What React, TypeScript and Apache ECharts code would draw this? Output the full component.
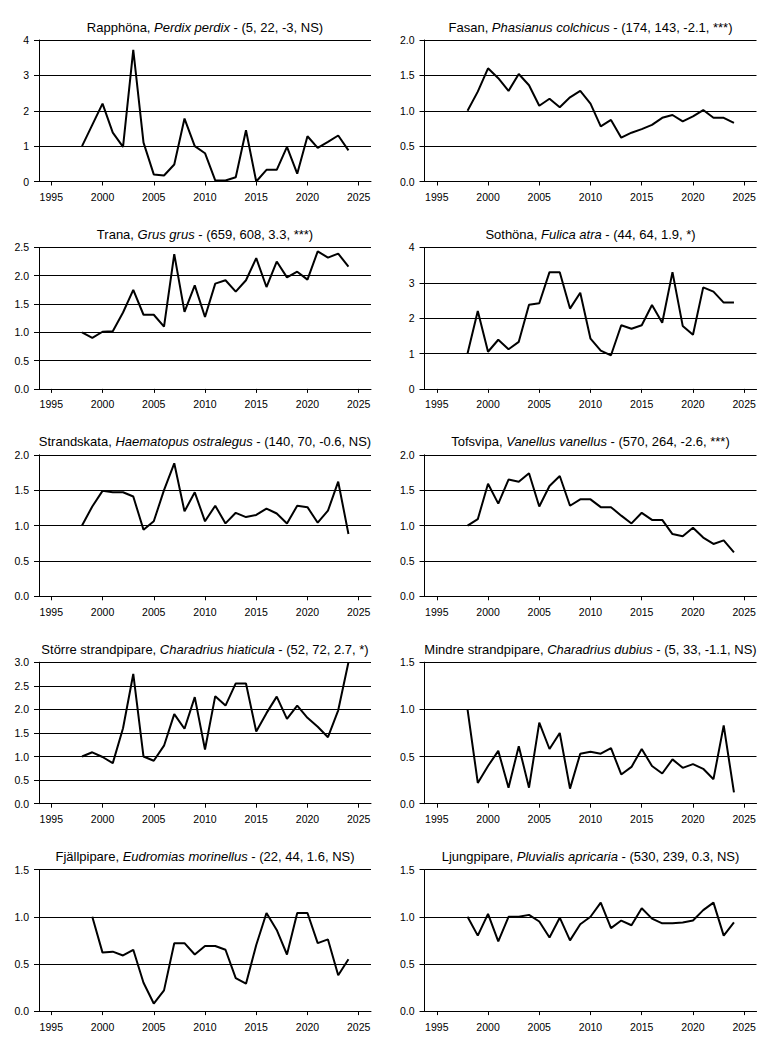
import React, { useEffect, useRef } from "react";
import * as echarts from "echarts";

// ---------- data ----------
const years = [
  1998, 1999, 2000, 2001, 2002, 2003, 2004, 2005, 2006, 2007, 2008, 2009, 2010,
  2011, 2012, 2013, 2014, 2015, 2016, 2017, 2018, 2019, 2020, 2021, 2022, 2023, 2024,
];
const xTickYears = [1995, 2000, 2005, 2010, 2015, 2020, 2025];

const commonNames = [
  "Rapphöna", "Fasan", "Trana", "Sothöna", "Strandskata",
  "Tofsvipa", "Större strandpipare", "Mindre strandpipare", "Fjällpipare", "Ljungpipare",
];
const latinNames = [
  "Perdix perdix", "Phasianus colchicus", "Grus grus", "Fulica atra", "Haematopus ostralegus",
  "Vanellus vanellus", "Charadrius hiaticula", "Charadrius dubius", "Eudromias morinellus", "Pluvialis apricaria",
];
const statTexts = [
  "(5, 22, -3, NS)", "(174, 143, -2.1, ***)", "(659, 608, 3.3, ***)", "(44, 64, 1.9, *)", "(140, 70, -0.6, NS)",
  "(570, 264, -2.6, ***)", "(52, 72, 2.7, *)", "(5, 33, -1.1, NS)", "(22, 44, 1.6, NS)", "(530, 239, 0.3, NS)",
];
const yMaxes = [4, 2, 2.5, 4, 2, 2, 3, 1.5, 1.5, 1.5];
const ySteps = [1, 0.5, 0.5, 1, 0.5, 0.5, 0.5, 0.5, 0.5, 0.5];

const rapphona = [1.0, 1.6, 2.2, 1.38, 0.98, 3.72, 1.1, 0.2, 0.17, 0.48, 1.78, 1.0, 0.8, 0.03, 0.03, 0.12, 1.45, 0.0, 0.33, 0.33, 0.98, 0.22, 1.28, 0.95, 1.12, 1.3, 0.88];
const fasan = [1.0, 1.27, 1.6, 1.46, 1.28, 1.52, 1.36, 1.07, 1.17, 1.05, 1.19, 1.28, 1.1, 0.78, 0.87, 0.62, 0.69, 0.74, 0.8, 0.9, 0.94, 0.85, 0.92, 1.01, 0.9, 0.9, 0.83];
const trana = [1.0, 0.9, 1.01, 1.02, 1.35, 1.75, 1.31, 1.31, 1.1, 2.38, 1.36, 1.83, 1.27, 1.86, 1.92, 1.72, 1.92, 2.31, 1.8, 2.25, 1.97, 2.07, 1.93, 2.43, 2.32, 2.39, 2.16];
const sothona = [1.0, 2.2, 1.05, 1.39, 1.12, 1.33, 2.38, 2.42, 3.3, 3.3, 2.27, 2.72, 1.42, 1.08, 0.95, 1.8, 1.7, 1.8, 2.37, 1.87, 3.3, 1.78, 1.53, 2.87, 2.75, 2.44, 2.44];
const strandskata = [1.0, 1.27, 1.49, 1.47, 1.47, 1.41, 0.94, 1.06, 1.5, 1.88, 1.2, 1.47, 1.06, 1.28, 1.03, 1.18, 1.12, 1.15, 1.24, 1.17, 1.03, 1.28, 1.26, 1.04, 1.21, 1.62, 0.88];
const tofsvipa = [1.0, 1.09, 1.59, 1.31, 1.65, 1.62, 1.74, 1.27, 1.56, 1.7, 1.28, 1.37, 1.37, 1.26, 1.26, 1.14, 1.03, 1.18, 1.08, 1.08, 0.88, 0.85, 0.97, 0.83, 0.74, 0.79, 0.62];
const storreStrandpipare = [1.0, 1.09, 0.99, 0.86, 1.6, 2.75, 1.0, 0.91, 1.23, 1.9, 1.59, 2.26, 1.15, 2.28, 2.08, 2.55, 2.55, 1.53, 1.92, 2.27, 1.8, 2.08, 1.82, 1.63, 1.41, 1.98, 3.0];
const mindreStrandpipare = [1.0, 0.22, 0.4, 0.56, 0.17, 0.61, 0.17, 0.86, 0.58, 0.75, 0.16, 0.53, 0.55, 0.53, 0.59, 0.31, 0.39, 0.58, 0.4, 0.32, 0.47, 0.38, 0.42, 0.37, 0.26, 0.83, 0.12];
const fjallpipare = [null, 1.0, 0.62, 0.63, 0.59, 0.65, 0.3, 0.08, 0.22, 0.72, 0.72, 0.6, 0.69, 0.69, 0.65, 0.35, 0.29, 0.7, 1.04, 0.86, 0.6, 1.04, 1.04, 0.72, 0.76, 0.38, 0.55];
const ljungpipare = [1.0, 0.8, 1.03, 0.74, 1.0, 1.0, 1.02, 0.95, 0.78, 0.99, 0.75, 0.92, 1.0, 1.15, 0.88, 0.96, 0.91, 1.09, 0.98, 0.93, 0.93, 0.94, 0.96, 1.07, 1.15, 0.8, 0.94];

const seriesValues: (number | null)[][] = [
  rapphona, fasan, trana, sothona, strandskata,
  tofsvipa, storreStrandpipare, mindreStrandpipare, fjallpipare, ljungpipare,
];

// ---------- layout ----------
const FONT = "'Liberation Sans', Arial, Helvetica, sans-serif";
const COL_LEFT = [39, 424.5];
const PLOT_W = 332;
const PLOT_H = 141.5;
const ROW_TOP0 = 40;
const ROW_STEP = 207.4;
const TICK_FONT = 10.5;
const TITLE_FONT = 13;

function buildOption() {
  const grids: any[] = [];
  const xAxes: any[] = [];
  const yAxes: any[] = [];
  const series: any[] = [];
  const graphics: any[] = [];

  seriesValues.forEach((vals, i) => {
    const col = i % 2;
    const row = Math.floor(i / 2);
    const left = COL_LEFT[col];
    const top = ROW_TOP0 + row * ROW_STEP;
    grids.push({ left, top, width: PLOT_W, height: PLOT_H, containLabel: false, outerBoundsMode: "none" });

    xAxes.push({
      type: "value",
      gridIndex: i,
      min: 1993.8,
      max: 2026.2,
      axisLine: { show: true, onZero: false, lineStyle: { color: "#000", width: 1 } },
      axisTick: { show: true, length: 4, lineStyle: { color: "#000", width: 1 }, customValues: xTickYears },
      axisLabel: {
        show: true,
        customValues: xTickYears,
        fontSize: TICK_FONT,
        fontFamily: FONT,
        color: "#000",
        margin: 10,
        formatter: (v: number) => String(v),
      },
      splitLine: { show: false },
    });

    const step = ySteps[i];
    yAxes.push({
      type: "value",
      gridIndex: i,
      min: 0,
      max: yMaxes[i],
      interval: step,
      axisLine: { show: true, onZero: false, lineStyle: { color: "#000", width: 1 } },
      axisTick: { show: true, length: 5, lineStyle: { color: "#000", width: 1 } },
      axisLabel: {
        show: true,
        fontSize: TICK_FONT,
        fontFamily: FONT,
        color: "#000",
        margin: 10,
        formatter: (v: number) => (step < 1 ? v.toFixed(1) : v.toFixed(0)),
      },
      splitLine: { show: true, lineStyle: { color: "#000", width: 1 } },
    });

    const data: [number, number][] = [];
    vals.forEach((v, k) => {
      if (v !== null) data.push([years[k], v]);
    });
    series.push({
      type: "line",
      xAxisIndex: i,
      yAxisIndex: i,
      data,
      symbol: "none",
      showSymbol: false,
      silent: true,
      clip: true,
      lineStyle: { color: "#000", width: 2 },
      itemStyle: { color: "#000" },
    });

    graphics.push({
      type: "text",
      x: left + PLOT_W / 2,
      y: top - 13,
      silent: true,
      style: {
        text: `{n|${commonNames[i]}, }{i|${latinNames[i]}}{n| - ${statTexts[i]}}`,
        align: "center",
        verticalAlign: "middle",
        fontSize: TITLE_FONT,
        fontFamily: FONT,
        fill: "#000",
        rich: {
          n: { fontSize: TITLE_FONT, fontFamily: FONT, fill: "#000", color: "#000" },
          i: { fontSize: TITLE_FONT, fontFamily: FONT, fontStyle: "italic", fill: "#000", color: "#000" },
        },
      },
    });
  });

  return {
    animation: false,
    backgroundColor: "#fff",
    grid: grids,
    xAxis: xAxes,
    yAxis: yAxes,
    series,
    graphic: graphics,
  };
}

export default function App() {
  const ref = useRef<HTMLDivElement>(null);
  useEffect(() => {
    if (!ref.current) return;
    const chart = echarts.init(ref.current, null, { renderer: "svg" });
    chart.setOption(buildOption() as any);
    return () => {
      chart.dispose();
    };
  }, []);
  return (
    <div
      ref={ref}
      style={{ position: "absolute", left: 0, top: 0, width: 769, height: 1038, background: "#fff" }}
    />
  );
}
